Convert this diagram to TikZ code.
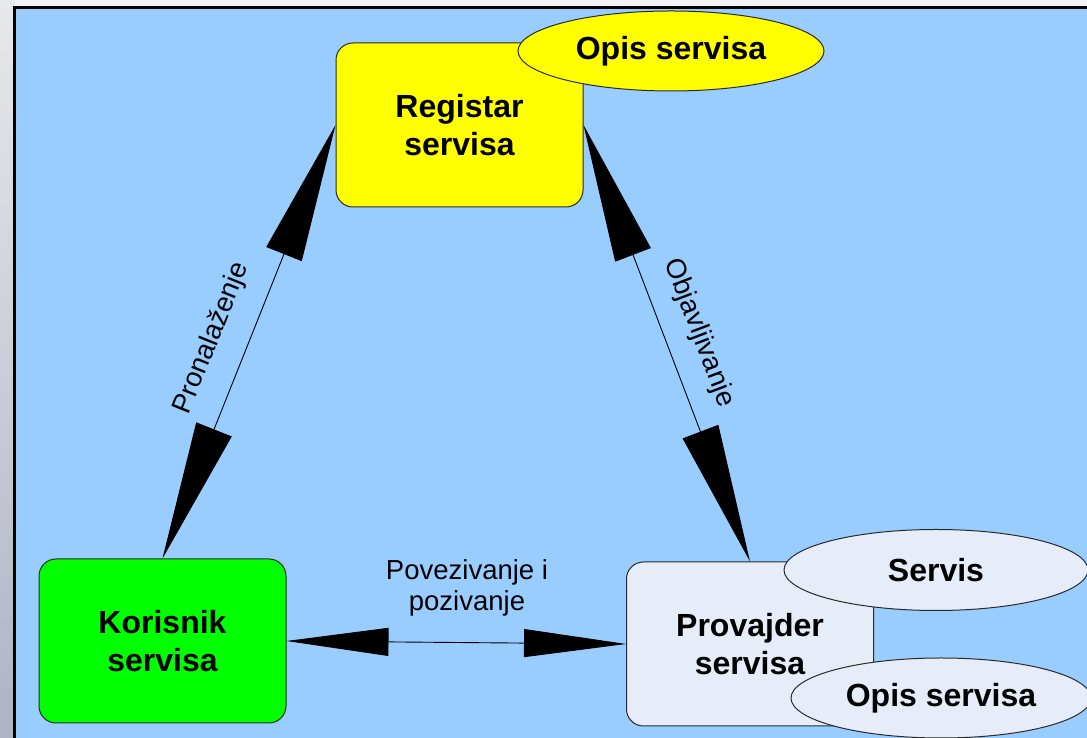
\documentclass[tikz,border=0pt]{standalone}
\usepackage{fontspec}
\setmainfont{Liberation Sans}
\usetikzlibrary{arrows.meta,shapes.geometric}

\definecolor{skyfill}{HTML}{99CCFF}
\definecolor{regfill}{HTML}{FFFF00}
\definecolor{userfill}{HTML}{00FF00}
\definecolor{provfill}{HTML}{E6EDF8}
\definecolor{boxline}{HTML}{2A2A2A}
\definecolor{topstrip}{HTML}{F2F2F6}
\definecolor{stripup}{HTML}{E6E8EC}
\definecolor{stripdown}{HTML}{AEB4C4}

\newcommand\boxfont{\fontsize{32}{38}\selectfont\bfseries}
\newcommand\labfont{\fontsize{27.5}{31}\selectfont}

\begin{document}
\begin{tikzpicture}[x=1pt,y=1pt,
  actor/.style={draw=boxline, line width=1pt, rounded corners=17pt,
    minimum width=247pt, minimum height=164pt, inner sep=0pt,
    align=center, font=\boxfont},
  blob/.style={ellipse, draw=boxline, line width=1pt, inner sep=0pt,
    font=\boxfont},
  link/.style={line width=0.9pt, black},
  bighead/.style={{Triangle[length=139pt,width=38pt]}-{Triangle[length=139pt,width=38pt]}},
  flathead/.style={{Triangle[length=102pt,width=28pt]}-{Triangle[length=102pt,width=28pt]}},
  linklabel/.style={font=\labfont, align=center, inner sep=0pt}]

  % page frame
  \useasboundingbox (0,0) rectangle (1087,738);
  \clip (0,0) rectangle (1087,738);
  \shade[top color=stripup, bottom color=stripdown] (0,0) rectangle (15,738);
  \fill[topstrip] (15,731) rectangle (1087,738);
  \fill[skyfill] (15,0) rectangle (1087,730.5);
  \draw[line width=2.6pt, black] (14.7,0) -- (14.7,730.7) -- (1087,730.7);

  % registry with its description
  \node[actor, fill=regfill] (reg) at (459.5,613) {Registar\\servisa};
  \node[blob, fill=regfill, minimum width=306pt, minimum height=80pt]
    (regdesc) at (671,687) {Opis servisa};

  % consumer
  \node[actor, fill=userfill] (kor) at (162.5,97) {Korisnik\\servisa};

  % provider with service and description
  \node[actor, fill=provfill] (prov) at (750,94) {Provajder\\servisa};
  \node[blob, fill=provfill, minimum width=304pt, minimum height=81pt]
    (srv) at (936,168) {Servis};
  \node[blob, fill=provfill, minimum width=300pt, minimum height=80pt]
    (provdesc) at (941,40) {Opis servisa};

  % interactions
  \draw[link, bighead] (kor.north) -- (reg.west);
  \draw[link, bighead] (reg.east) -- (prov.north);
  \draw[link, flathead] (kor.east) -- (prov.west);

  \node[linklabel, rotate=68.1] (find) at (212,400) {Pronalaženje};
  \node[linklabel, rotate=-69.2] (publish) at (699,405) {Objavljivanje};
  \node[linklabel] (bind) at (467,150) {Povezivanje i\\pozivanje};
\end{tikzpicture}
\end{document}
